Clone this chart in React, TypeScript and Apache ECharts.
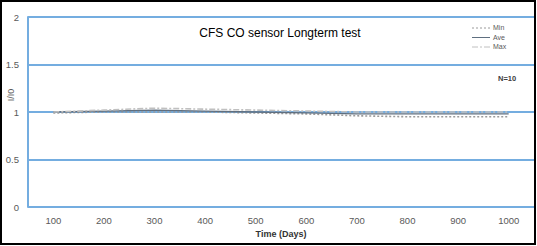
import React, { useEffect, useRef } from "react";
import * as echarts from "echarts";

const days = ["100", "200", "300", "400", "500", "600", "700", "800", "900", "1000"];
const minValues = [0.99, 1.0, 1.0, 1.0, 0.99, 0.98, 0.96, 0.95, 0.95, 0.95];
const aveValues = [1.0, 1.01, 1.02, 1.01, 1.0, 0.99, 0.98, 0.98, 0.98, 0.98];
const maxValues = [1.0, 1.02, 1.04, 1.03, 1.02, 1.01, 1.0, 1.0, 1.0, 1.0];
const seriesNames = ["Min", "Ave", "Max"];

const BLUE = "#74ade0";
const LABEL = "#595959";

const lineStyles = [
  { stroke: "#9a9a9a", lineWidth: 1.6, lineDash: [2, 2] },
  { stroke: "#5f6f80", lineWidth: 1.3, lineDash: null },
  { stroke: "#c0c0c0", lineWidth: 1.6, lineDash: [6, 2, 2, 2] },
];

export default function App() {
  const ref = useRef<HTMLDivElement>(null);

  useEffect(() => {
    if (!ref.current) return;
    const chart = echarts.init(ref.current, undefined, { renderer: "svg" });

    // hand-drawn legend: short stroke sample + label per series
    const legendItems = seriesNames.flatMap((name, i) => [
      {
        type: "line",
        shape: { x1: 472, y1: 28 + i * 9.5, x2: 490, y2: 28 + i * 9.5 },
        style: { ...lineStyles[i], lineWidth: 1 },
      },
      {
        type: "text",
        left: 493,
        top: 24 + i * 9.5,
        style: { text: name, fontFamily: "Liberation Sans", fontSize: 7, fill: LABEL },
      },
    ]);

    chart.setOption({
      animation: false,
      backgroundColor: "#fff",
      title: {
        text: "CFS CO sensor Longterm test",
        left: 275,
        top: 22,
        textAlign: "center",
        textStyle: { fontFamily: "Liberation Sans", fontSize: 12, fontWeight: "normal", color: "#000" },
      },
      graphic: [
        ...legendItems,
        {
          type: "text",
          left: 498,
          top: 74,
          style: { text: "N=10", fontFamily: "Liberation Sans", fontSize: 7.5, fontWeight: "bold", fill: "#404040" },
        },
        {
          type: "text",
          x: 11,
          y: 95,
          rotation: Math.PI / 2,
          style: {
            text: "I/I0",
            fontFamily: "Liberation Sans",
            fontSize: 9,
            fill: LABEL,
            align: "center",
            verticalAlign: "middle",
          },
        },
      ],
      grid: { left: 28, right: 3, top: 17, bottom: 39, outerBoundsMode: "none", containLabel: false },
      xAxis: {
        type: "category",
        data: days,
        boundaryGap: true,
        name: "Time (Days)",
        nameLocation: "middle",
        nameGap: 22,
        nameTextStyle: { fontFamily: "Liberation Sans", fontSize: 9, fontWeight: "bold", color: "#333" },
        axisLine: { show: false },
        axisTick: { show: false },
        axisLabel: { fontFamily: "Liberation Sans", fontSize: 9.5, color: LABEL, margin: 8 },
      },
      yAxis: {
        type: "value",
        min: 0,
        max: 2,
        interval: 0.5,
        axisLine: { show: true, lineStyle: { color: BLUE, width: 2 } },
        axisTick: { show: false },
        axisLabel: { fontFamily: "Liberation Sans", fontSize: 9.5, color: LABEL, margin: 9 },
        splitLine: { lineStyle: { color: BLUE, width: 2 } },
      },
      series: [minValues, aveValues, maxValues].map((data, i) => ({
        name: seriesNames[i],
        type: "line",
        data,
        symbol: "none",
        lineStyle: {
          color: lineStyles[i].stroke,
          width: lineStyles[i].lineWidth,
          type: lineStyles[i].lineDash ?? "solid",
        },
      })),
    });
    return () => chart.dispose();
  }, []);

  return (
    <div
      style={{
        position: "absolute",
        left: 0,
        top: 0,
        width: 536,
        height: 245,
        border: "2px solid #000",
        boxSizing: "border-box",
        background: "#fff",
        overflow: "hidden",
      }}
    >
      <div ref={ref} style={{ position: "absolute", left: -2, top: -2, width: 537, height: 246 }} />
    </div>
  );
}
